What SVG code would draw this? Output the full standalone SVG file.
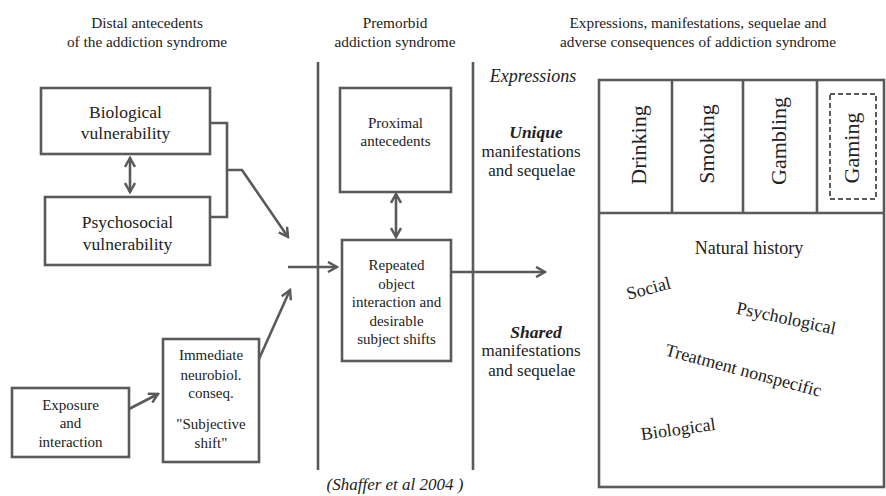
<svg xmlns="http://www.w3.org/2000/svg" width="886" height="496" viewBox="0 0 886 496" font-family="'Liberation Serif', Tinos, 'Times New Roman', Times, 'DejaVu Serif', 'Noto Serif', serif">
<defs>
<marker id="ah" viewBox="0 0 12 12" refX="10" refY="6" markerWidth="12" markerHeight="12" markerUnits="userSpaceOnUse" orient="auto-start-reverse">
<path d="M1,1 L10,6 L1,11" fill="none" stroke="#5a5a5a" stroke-width="2.5"/>
</marker>
<style>
text{fill:#222;text-anchor:middle}
.t{font-size:15.300px}
.b{font-size:17.5px}
.m{font-size:15px}
.s{font-size:17px}
.big{font-size:22px}
.nh{font-size:18px}
.box{fill:#fff;stroke:#5a5a5a;stroke-width:2.6}
.ln{fill:none;stroke:#5a5a5a;stroke-width:2.6}
.ar{fill:none;stroke:#5a5a5a;stroke-width:2.6;marker-end:url(#ah)}
.dar{fill:none;stroke:#5a5a5a;stroke-width:2.6;marker-end:url(#ah);marker-start:url(#ah)}
</style>
</defs>
<rect width="886" height="496" fill="#fff"/>

<g id="titles">
<text class="t" x="147" y="28">Distal antecedents</text>
<text class="t" x="147" y="47">of the addiction syndrome</text>
<text class="t" x="395" y="28">Premorbid</text>
<text class="t" x="395" y="47">addiction syndrome</text>
<text class="t" x="698" y="28">Expressions, manifestations, sequelae and</text>
<text class="t" x="698" y="47">adverse consequences of addiction syndrome</text>
</g>

<g id="dividers">
<line class="ln" x1="318" y1="62" x2="318" y2="470"/>
<line class="ln" x1="473" y1="62" x2="473" y2="470"/>
</g>

<g id="bio">
<rect class="box" x="41" y="88" width="169" height="66"/>
<text class="b" x="125.500" y="118">Biological</text>
<text class="b" x="125.500" y="139">vulnerability</text>
</g>
<g id="psycho">
<rect class="box" x="45" y="197" width="165" height="68"/>
<text class="b" x="127.500" y="228">Psychosocial</text>
<text class="b" x="127.500" y="250">vulnerability</text>
</g>
<g id="exposure">
<rect class="box" x="12" y="388" width="117" height="69"/>
<text class="m" x="70.500" y="410">Exposure</text>
<text class="m" x="70.500" y="428">and</text>
<text class="m" x="70.500" y="447">interaction</text>
</g>
<g id="immediate">
<rect class="box" x="163" y="339" width="96" height="123"/>
<text class="m" x="211" y="360">Immediate</text>
<text class="m" x="211" y="380">neurobiol.</text>
<text class="m" x="211" y="398">conseq.</text>
<text class="m" x="211" y="429">"Subjective</text>
<text class="m" x="211" y="448">shift"</text>
</g>
<g id="proximal">
<rect class="box" x="340" y="88" width="111" height="104"/>
<text class="m" x="395.500" y="128">Proximal</text>
<text class="m" x="395.500" y="146">antecedents</text>
</g>
<g id="repeated">
<rect class="box" x="342" y="240" width="109" height="121"/>
<text class="m" x="396.500" y="270">Repeated</text>
<text class="m" x="396.500" y="289">object</text>
<text class="m" x="396.500" y="307">interaction and</text>
<text class="m" x="396.500" y="326">desirable</text>
<text class="m" x="396.500" y="344">subject shifts</text>
</g>

<g id="side-labels">
<text x="533" y="82" style="font-size:18px;font-style:italic">Expressions</text>
<text x="536" y="138" style="font-size:17.5px;font-style:italic;font-weight:bold">Unique</text>
<text class="s" x="531" y="157">manifestations</text>
<text class="s" x="532" y="176">and sequelae</text>
<text x="536" y="338" style="font-size:17.5px;font-style:italic;font-weight:bold">Shared</text>
<text class="s" x="531" y="356">manifestations</text>
<text class="s" x="532" y="376">and sequelae</text>
</g>

<g id="expressions-grid">
<rect class="box" x="599" y="80" width="285" height="407"/>
<line class="ln" x1="599" y1="213" x2="884" y2="213"/>
<line class="ln" x1="672" y1="80" x2="672" y2="213"/>
<line class="ln" x1="743" y1="80" x2="743" y2="213"/>
<line class="ln" x1="817" y1="80" x2="817" y2="213"/>
<rect x="830" y="94" width="46" height="105" fill="none" stroke="#5a5a5a" stroke-width="2" stroke-dasharray="5,3"/>
<text class="big" transform="translate(646,145) rotate(-90)">Drinking</text>
<text class="big" transform="translate(714,144) rotate(-90)">Smoking</text>
<text class="big" transform="translate(786,141) rotate(-90)">Gambling</text>
<text class="big" transform="translate(859,148) rotate(-90)">Gaming</text>
</g>

<g id="shared-box">
<text class="nh" x="749" y="254">Natural history</text>
<text class="nh" transform="translate(650,294) rotate(-15)">Social</text>
<text class="nh" transform="translate(785,324) rotate(12)">Psychological</text>
<text class="nh" transform="translate(742,376) rotate(15)">Treatment nonspecific</text>
<text class="nh" transform="translate(679,435) rotate(-8)">Biological</text>
</g>

<g id="connectors">
<path class="ln" d="M210,123 H227 V217 H210"/>
<path class="ar" d="M227,170 H242 L288,237"/>
<path class="dar" d="M130,158 V192"/>
<path class="ar" d="M129,409 L158,394"/>
<path class="ar" d="M259,359 L290,290"/>
<path class="ar" d="M288,267 H337"/>
<path class="dar" d="M396,194 V237"/>
<path class="ar" d="M451,272 H545"/>
</g>

<text x="395" y="490" style="font-size:17px;font-style:italic">(Shaffer et al 2004 )</text>
</svg>
